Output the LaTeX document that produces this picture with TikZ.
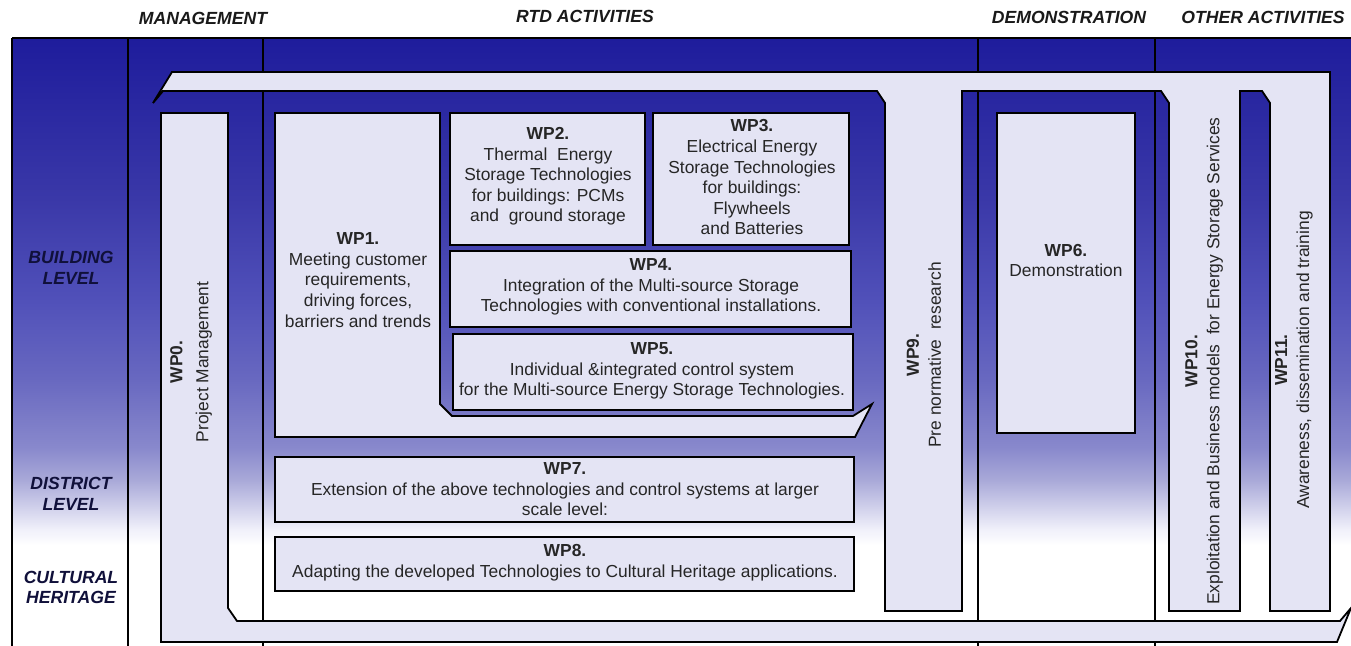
\documentclass[tikz,border=0pt]{standalone}
\usepackage{fontspec}
\setmainfont{Liberation Sans}
\definecolor{lav}{RGB}{228,228,244}
\definecolor{navy}{RGB}{16,16,58}
\definecolor{g0}{RGB}{30,28,156}
\definecolor{g1}{RGB}{58,56,168}
\definecolor{g2}{RGB}{80,80,185}
\definecolor{g3}{RGB}{104,104,192}
\definecolor{g4}{RGB}{136,136,204}
\definecolor{g5}{RGB}{168,168,216}
\definecolor{g6}{RGB}{240,240,250}
\pgfdeclareverticalshading{bgshade}{100bp}{color(0bp)=(white); color(33.3bp)=(white); color(34.6bp)=(g6); color(38.7bp)=(g5); color(41.4bp)=(g4); color(47bp)=(g3); color(53.6bp)=(g2); color(61.8bp)=(g1); color(75bp)=(g0); color(100bp)=(g0)}
\tikzset{
  wpbox/.style={draw=black, fill=lav, line width=0.9pt, line join=miter},
  sepline/.style={line width=1.3pt, draw=black},
  hdr/.style={font=\fontsize{8.8}{10.4}\selectfont\bfseries\itshape, text=black!90, inner sep=0pt},
  rowlab/.style={hdr, align=center, text=navy},
  wptext/.style={font=\fontsize{8.7}{10.3}\selectfont, align=center, inner sep=0pt, text=black!85},
  vtext/.style={wptext, rotate=90, font=\fontsize{8.7}{11}\selectfont},
}
\begin{document}
\begin{tikzpicture}[x=0.5pt, y=-0.5pt]
\useasboundingbox (0,0) rectangle (1351,646);
% background gradient
\fill[shading=bgshade] (12,38) rectangle (1351,646);
% separators
\draw[line width=1pt] (12,38) -- (1351,38);
\foreach \xx in {12,128,263,978,1155} \draw[sepline] (\xx,38) -- (\xx,646);
% comb shape (top band with WP9, WP10, WP11)
\draw[wpbox] (172,72) -- (1330,72) -- (1330,611) -- (1270,611) -- (1270,103) -- (1262,91)
  -- (1240,91) -- (1240,611) -- (1169,611) -- (1169,103) -- (1161,91) -- (962,91)
  -- (962,611) -- (885,611) -- (885,103) -- (877,91) -- (163,91) -- (153,103) -- cycle;
% WP0 L shape with bottom band
\draw[wpbox] (161,113) -- (228,113) -- (228,608) -- (237,621) -- (1340,621) -- (1351,608)
  -- (1337,642) -- (161,642) -- cycle;
% WP1 L shape
\draw[wpbox] (275,113) -- (440,113) -- (440,404) -- (452,416) -- (853,416) -- (872,404)
  -- (855,437) -- (275,437) -- cycle;
% boxes
\draw[wpbox] (450,113) rectangle (645,245);
\draw[wpbox] (653,113) rectangle (849,245);
\draw[wpbox] (450,251) rectangle (851,327);
\draw[wpbox] (453,334) rectangle (853,410);
\draw[wpbox] (997,113) rectangle (1135,433);
\draw[wpbox] (275,457) rectangle (854,522);
\draw[wpbox] (275,537) rectangle (854,591);
% headers
\node[hdr] (hmg) at (203,18) {MANAGEMENT};
\node[hdr] (hrtd) at (585,16) {RTD ACTIVITIES};
\node[hdr] (hdemo) at (1069,17) {DEMONSTRATION};
\node[hdr] (hother) at (1263,17) {OTHER ACTIVITIES};
% row labels
\node[rowlab] (rbuild) at (71,267.5) {BUILDING\\LEVEL};
\node[rowlab] (rdist) at (71,494) {DISTRICT\\LEVEL};
\node[rowlab] (rcult) at (71,587.5) {CULTURAL\\HERITAGE};
% WP texts
\node[wptext] (wp1) at (358,280) {\textbf{WP1.}\\Meeting customer\\requirements,\\driving forces,\\barriers and trends};
\node[wptext] (wp2) at (548,176.5) {\textbf{WP2.}\\Thermal\ \ Energy\\Storage Technologies\\for buildings: PCMs\\and\ \ ground storage};
\node[wptext] (wp3) at (752,177.5) {\textbf{WP3.}\\Electrical Energy\\Storage Technologies\\for buildings:\\Flywheels\\and Batteries};
\node[wptext] (wp4) at (651,287) {\textbf{WP4.}\\Integration of the Multi-source Storage\\Technologies with conventional installations.};
\node[wptext] (wp5) at (652,371) {\textbf{WP5.}\\Individual \&integrated control system\\for the Multi-source Energy Storage Technologies.};
\node[wptext] (wp6) at (1066,260.5) {\textbf{WP6.}\\Demonstration};
\node[wptext] (wp7) at (565,489.5) {\textbf{WP7.}\\Extension of the above technologies and control systems at larger\\scale level:};
\node[wptext] (wp8) at (565,562.5) {\textbf{WP8.}\\Adapting the developed Technologies to Cultural Heritage applications.};
\node[vtext, font=\fontsize{8.7}{13}\selectfont] (wp0) at (191,362) {\textbf{WP0.}\\Project Management};
\node[vtext] (wp9) at (924,355) {\textbf{WP9.}\\Pre normative\ \ research};
\node[vtext] (wp10) at (1204,361) {\textbf{WP10.}\\Exploitation and Business models\ \ for Energy Storage Services};
\node[vtext] (wp11) at (1294,360) {\textbf{WP11.}\\Awareness, dissemination and training};
\end{tikzpicture}
\end{document}
